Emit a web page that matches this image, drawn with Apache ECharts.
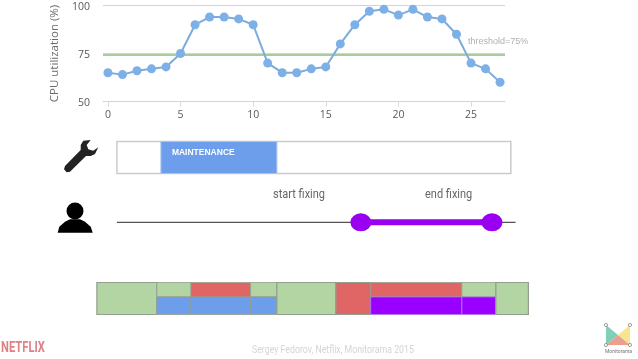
<!DOCTYPE html>
<html><head><meta charset="utf-8">
<style>html,body{margin:0;background:#fff}#c{width:638px;height:359px}</style>
<script src="https://cdn.jsdelivr.net/npm/echarts@6/dist/echarts.min.js"></script>
</head><body><div id="c"></div>
<script>
var hours = [0,1,2,3,4,5,6,7,8,9,10,11,12,13,14,15,16,17,18,19,20,21,22,23,24,25,26,27];
var cpu = [65,64,66,67,68,75,90,94,94,93,90,70,65,65,67,68,80,90,97,98,95,98,94,93,85,70,67,60];
var threshold = 74.6;
var xTicks = [0,5,10,15,20,25];
var maintenanceBox = [0.62,27.75];
var maintenance = [3.65,11.64];
var timelineSpan = [0.62,28.08];
var fixing = [17.42,26.45];
var fixLabels = ['start fixing','end fixing'];
var stripUpper = [[-0.76,3.37,'ok'],[3.37,5.72,'ok'],[5.72,9.83,'bad'],[9.83,11.64,'ok'],[11.64,15.7,'ok'],[15.7,18.1,'bad'],[18.1,24.38,'bad'],[24.38,26.72,'ok'],[26.72,28.96,'ok']];
var stripLower = [[-0.76,3.37,'ok'],[3.37,5.72,'maint'],[5.72,9.83,'maint'],[9.83,11.64,'maint'],[11.64,15.7,'ok'],[15.7,18.1,'bad'],[18.1,24.38,'fix'],[24.38,26.72,'fix'],[26.72,28.96,'ok']];

var stateColor = {ok:'#b3d5a3',bad:'#e06666',maint:'#6d9eeb',fix:'#9900ff'};
var pxPerUnit = 14.52, x0 = 107.9, W = 638, H = 359;
var fullX = {min:-x0/pxPerUnit,max:(W-x0)/pxPerUnit};

function hiddenX(i){return {type:'value',gridIndex:i,min:fullX.min,max:fullX.max,show:false};}
function hiddenY(i,a,b){return {type:'value',gridIndex:i,min:a,max:b,show:false};}
function rect(api,a,b,lo,hi,style){
  var p=api.coord([a,hi]),q=api.coord([b,lo]);
  return {type:'rect',shape:{x:p[0],y:p[1],width:q[0]-p[0],height:q[1]-p[1]},style:style};
}

var option = {
  animation:false,
  backgroundColor:'#ffffff',
  grid:[
    {left:103,width:402,top:5.5,height:96},
    {left:0,width:W,top:141.5,height:32},
    {left:0,width:W,top:212.3,height:20},
    {left:0,width:W,top:282.5,height:32}
  ],
  xAxis:[
    {type:'value',gridIndex:0,min:-0.34,max:27.34,
      axisLine:{show:true,lineStyle:{color:'#c9d7e0',width:1}},
      splitLine:{show:false},
      axisTick:{show:true,length:5,inside:false,customValues:xTicks,lineStyle:{color:'#cfdde8'}},
      axisLabel:{customValues:xTicks,color:'#595959',fontFamily:'Open Sans',fontSize:10.5,margin:8,letterSpacing:1}},
    hiddenX(1),hiddenX(2),hiddenX(3)
  ],
  yAxis:[
    {type:'value',gridIndex:0,min:50,max:100,interval:25,
      name:'CPU utilization (%)',nameLocation:'middle',nameRotate:90,nameGap:36,
      nameTextStyle:{color:'#6b6b6b',fontFamily:'Open Sans',fontSize:11.5},
      axisLine:{show:false},axisTick:{show:false},
      splitLine:{show:true,lineStyle:{color:'#ccd6d9',width:1}},
      axisLabel:{color:'#595959',fontFamily:'Open Sans',fontSize:10.5,margin:13,letterSpacing:1,verticalAlign:'top',lineHeight:4}},
    hiddenY(1,0,1),hiddenY(2,0,1),hiddenY(3,0,1)
  ],
  series:[
    {type:'line',xAxisIndex:0,yAxisIndex:0,data:hours.map(function(h,i){return [h,cpu[i]];}),
      symbol:'circle',symbolSize:9,z:5,clip:false,
      lineStyle:{color:'#7dacdc',width:2},itemStyle:{color:'#7cb0e6'},
      markLine:{silent:true,symbol:'none',label:{show:false},z:3,
        lineStyle:{color:'#a9cc9a',width:2,type:'solid'},
        data:[{yAxis:threshold}]}
    },
    {type:'custom',xAxisIndex:1,yAxisIndex:1,coordinateSystem:'cartesian2d',clip:false,
      data:[[maintenanceBox[0],maintenanceBox[1]],[maintenance[0],maintenance[1]]],
      encode:{x:[0,1]},
      renderItem:function(p,api){
        var a=api.value(0),b=api.value(1);
        if(p.dataIndex===0){
          return rect(api,a,b,0,1,{fill:'#fff',stroke:'#cccccc',lineWidth:1.5});
        }
        var r=rect(api,a,b,0,1,{fill:'#6d9eeb',stroke:'#a9c4ef',lineWidth:1});
        return {type:'group',children:[r,{type:'text',x:r.shape.x+11,y:r.shape.y+6.5,
          style:{text:'MAINTENANCE',fill:'#ffffff',font:'bold 8.5px "Liberation Sans"'}}]};
      }
    },
    {type:'line',xAxisIndex:2,yAxisIndex:2,data:[[timelineSpan[0],0.5],[timelineSpan[1],0.5]],
      symbol:'none',z:2,lineStyle:{color:'#555555',width:1.2}},
    {type:'line',xAxisIndex:2,yAxisIndex:2,data:[[fixing[0],0.5],[fixing[1],0.5]],
      symbol:'circle',symbolSize:[21,18],z:3,itemStyle:{color:'#9900ef'},
      lineStyle:{color:'#9900ef',width:6}},
    {type:'custom',xAxisIndex:3,yAxisIndex:3,coordinateSystem:'cartesian2d',clip:false,z:3,
      data:stripUpper.map(function(d){return [d[0],d[1]];}),
      encode:{x:[0,1]},
      renderItem:function(p,api){
        var d=stripUpper[p.dataIndex],l=stripLower[p.dataIndex];
        var same=d[2]===l[2];
        var divider=(l[2]==='fix')?'#b57ae8':'#949e8e';
        var kids=[];
        if(same){
          kids.push(rect(api,d[0],d[1],0,1,{fill:stateColor[d[2]],stroke:divider,lineWidth:1.2}));
        }else{
          kids.push(rect(api,d[0],d[1],0.55,1,{fill:stateColor[d[2]],stroke:'#949e8e',lineWidth:0.8}));
          kids.push(rect(api,d[0],d[1],0,0.55,{fill:stateColor[l[2]],stroke:divider,lineWidth:0.8}));
        }
        return {type:'group',children:kids};
      }
    }
  ],
  graphic:[
    {type:'text',left:273,top:188,style:{text:fixLabels[0],fill:'#666666',font:'13px Roboto'},scaleX:0.845},
    {type:'text',left:425,top:188,style:{text:fixLabels[1],fill:'#666666',font:'13px Roboto'},scaleX:0.845},
    {type:'text',left:468,top:37,style:{text:'threshold=75%',fill:'#b0b0b0',font:'9px "Liberation Sans"'}},
    {type:'text',left:252,top:345,style:{text:'Sergey Fedorov, Netflix, Monitorama 2015',fill:'#d4d4d4',font:'10.5px Roboto'},scaleX:0.835},
    {type:'text',left:1,top:341,style:{text:'NETFLIX',fill:'#e07f84',font:'bold 14px Roboto'},scaleX:0.8},
    {type:'polygon',shape:{points:[[90.7,140],[83.3,140.7],[80.7,145],[80.7,150],[65,166],[64,169.3],[66.7,172.3],[70,171.7],[86,156],[90.7,156],[95,154],[98.3,147.3],[93.3,150.7],[88.3,149.3],[86.7,145]]},style:{fill:'#222222'}},
    {type:'circle',shape:{cx:75,cy:211,r:8.5},style:{fill:'#000'}},
    {type:'polygon',shape:{points:[[57.7,232.7],[59.3,226.7],[65,221.7],[70,219.3],[80,219.3],[85,221.7],[90.7,226.7],[92.7,232.7]]},style:{fill:'#000'}},
    {type:'polygon',shape:{points:[[606,325],[606,345],[618,335]]},style:{fill:'#7fcfb9'}},
    {type:'polygon',shape:{points:[[630,325],[630,345],[618,335]]},style:{fill:'#f8e48f'}},
    {type:'polygon',shape:{points:[[606,345],[630,345],[618,335]]},style:{fill:'#e8a090'}},
    {type:'circle',shape:{cx:606,cy:325,r:1.6},style:{fill:'#fff',stroke:'#777',lineWidth:.7}},
    {type:'circle',shape:{cx:630,cy:325,r:1.6},style:{fill:'#fff',stroke:'#777',lineWidth:.7}},
    {type:'circle',shape:{cx:606,cy:345,r:1.6},style:{fill:'#fff',stroke:'#777',lineWidth:.7}},
    {type:'circle',shape:{cx:630,cy:345,r:1.6},style:{fill:'#fff',stroke:'#777',lineWidth:.7}},
    {type:'text',left:605,top:349,style:{text:'Monitorama',fill:'#777',font:'5px Roboto'}}
  ]
};
var chart = echarts.init(document.getElementById('c'),null,{renderer:'canvas'});
chart.setOption(option);
</script></body></html>
